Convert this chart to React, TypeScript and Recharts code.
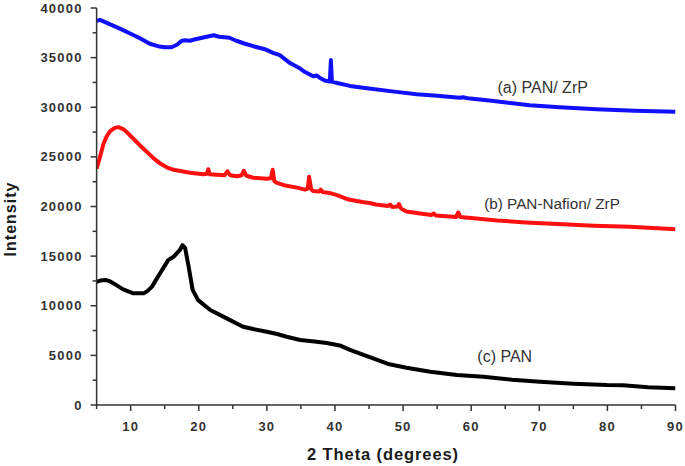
import React from 'react';
import { LineChart, Line, XAxis, YAxis, ReferenceDot, Label } from 'recharts';

// 2-theta (deg) vs intensity
const panZrP: [number, number][] = [
  [5, 38700], [5.5, 38800], [6.5, 38500], [7.5, 38200], [8.5, 37900], [10, 37400], [11.5, 36900],
  [12.8, 36400], [14, 36150], [15, 36050], [16, 36050], [16.8, 36300], [17.5, 36700], [18, 36750],
  [18.7, 36700], [19.5, 36850], [20.5, 37000], [21.5, 37150], [22.2, 37250], [23, 37100], [23.8, 37050],
  [24.5, 37000], [25.5, 36700], [26.8, 36400], [28, 36150], [29.7, 35850], [31, 35450], [31.9, 35250],
  [33.4, 34450], [34.9, 33900], [35.6, 33550], [36.8, 33130], [37.3, 33200], [37.7, 33000], [38.5, 32700],
  [39.25, 32600], [39.4, 34750], [39.55, 32580], [40, 32500], [42.2, 32150], [45, 31900], [49, 31550],
  [52, 31300], [55, 31150], [58.3, 30950], [58.8, 31000], [59.5, 30900], [63, 30650], [68.6, 30200],
  [73, 30000], [78.4, 29800], [84, 29650], [90, 29550],
];

const panNafionZrP: [number, number][] = [
  [5, 23800], [5.5, 25000], [6, 26300], [6.5, 27100], [7, 27600], [7.6, 27900], [8.2, 28000], [8.9, 27800],
  [9.5, 27450], [10.3, 26900], [11.3, 26200], [12.4, 25500], [13.3, 24900], [14.3, 24350], [15.3, 23950],
  [16.3, 23700], [17.5, 23550], [18.7, 23400], [20.7, 23250], [21.2, 23300], [21.4, 23750], [21.6, 23250],
  [22.6, 23200], [23.8, 23150], [24.2, 23550], [24.6, 23150], [25.6, 23050], [26.3, 23150], [26.6, 23600],
  [27, 23100], [28, 22900], [30, 22800], [30.6, 22850], [30.85, 23700], [31.1, 22550], [31.4, 22400],
  [32.5, 22150], [34.4, 21900], [35.6, 21700], [36, 21800], [36.2, 23000], [36.5, 21750], [36.8, 21550],
  [37.6, 21500], [37.9, 21700], [38.2, 21450], [39.3, 21350], [40.3, 21150], [42, 20700], [44, 20450],
  [45.1, 20350], [46, 20200], [47.8, 20050], [48.1, 20200], [48.4, 19950], [49.2, 20000], [49.4, 20250],
  [49.7, 19800], [50.5, 19500], [52.5, 19300], [54.2, 19150], [54.5, 19300], [54.8, 19100], [57.8, 18950],
  [58.1, 19400], [58.4, 18950], [60, 18850], [63.8, 18600], [68, 18400], [73.5, 18200], [78, 18050],
  [83.3, 17950], [86, 17850], [90, 17720],
];

const pan: [number, number][] = [
  [5, 12400], [5.6, 12550], [6.3, 12600], [7, 12450], [7.5, 12250], [8.9, 11650], [10.4, 11250],
  [11.9, 11250], [12.5, 11500], [13.1, 11900], [14.3, 13250], [15.5, 14600], [16.3, 14930], [17.2, 15600],
  [17.6, 16100], [18, 15800], [18.5, 14000], [19.1, 11600], [19.9, 10570], [21.7, 9570], [24.1, 8730],
  [26.5, 7880], [28, 7650], [30, 7380], [31.5, 7150], [32.9, 6880], [34.9, 6550], [37, 6400], [38.8, 6250],
  [40.7, 6000], [42.2, 5550], [45.6, 4700], [48, 4100], [50.5, 3760], [54, 3350], [57.9, 3020], [61.8, 2850],
  [66, 2550], [70.1, 2350], [75, 2150], [79.9, 2010], [82.3, 1980], [86, 1800], [90, 1680],
];

const xTicks = [5, 10, 15, 20, 25, 30, 35, 40, 45, 50, 55, 60, 65, 70, 75, 80, 85, 90];
const yTicks = [0, 2500, 5000, 7500, 10000, 12500, 15000, 17500, 20000, 22500, 25000, 27500, 30000, 32500, 35000, 37500, 40000];

const seriesLabels = [
  { x: 70.5, y: 32050, text: '(a) PAN/ ZrP', size: 16 },
  { x: 71.87, y: 20340, text: '(b) PAN-Nafion/ ZrP', size: 15.3 },
  { x: 64.93, y: 4860, text: '(c) PAN', size: 16 },
];

const toPoints = (s: [number, number][]) => s.map(([x, y]) => ({ x, y }));

const FONT = '"Liberation Sans", Arial, Helvetica, sans-serif';
const AXIS = '#333';

function XTick(props: any) {
  const { x, y, payload } = props;
  const v = payload.value;
  const major = v % 10 === 0;
  return (
    <g>
      <line x1={x} x2={x} y1={y} y2={y + (major ? 6 : 4)} stroke={AXIS} strokeWidth={1.5} />
      {major && (
        <text x={x} y={y + 26} textAnchor="middle" fontFamily={FONT} fontWeight="bold" fontSize={13}
          letterSpacing={1.2} fill="#333">{v}</text>
      )}
    </g>
  );
}

function YTick(props: any) {
  const { x, y, payload } = props;
  const v = payload.value;
  const major = v % 5000 === 0;
  return (
    <g>
      <line x1={x - (major ? 6 : 4)} x2={x} y1={y} y2={y} stroke={AXIS} strokeWidth={1.5} />
      {major && (
        <text x={x - 14} y={y + 4.6} textAnchor="end" fontFamily={FONT} fontWeight="bold" fontSize={13}
          letterSpacing={1.2} fill="#333">{v}</text>
      )}
    </g>
  );
}

export default function App() {
  return (
    <div style={{ position: 'absolute', left: 0, top: 0, width: 685, height: 466, background: '#fff' }}>
      <LineChart width={685} height={466} margin={{ top: 8, right: 9.5, left: 0, bottom: 0 }}>
        <XAxis
          dataKey="x"
          type="number"
          domain={[5, 90]}
          ticks={xTicks}
          interval={0}
          allowDataOverflow
          height={61}
          tickSize={0}
          tickMargin={0}
          tickLine={false}
          tick={<XTick />}
          axisLine={{ stroke: AXIS, strokeWidth: 1.5 }}
        >
          <Label
            content={() => (
              <text x={383} y={460} textAnchor="middle" fontFamily={FONT} fontWeight="bold" fontSize={16.5}
                letterSpacing={0.9} fill="#1a1a1a">2 Theta (degrees)</text>
            )}
          />
        </XAxis>
        <YAxis
          dataKey="y"
          type="number"
          domain={[0, 40000]}
          ticks={yTicks}
          interval={0}
          allowDataOverflow
          width={96.6}
          tickSize={0}
          tickMargin={0}
          tickLine={false}
          tick={<YTick />}
          axisLine={{ stroke: AXIS, strokeWidth: 1.5 }}
        >
          <Label
            content={() => (
              <text x={15.5} y={219} transform="rotate(-90, 15.5, 219)" textAnchor="middle" fontFamily={FONT}
                fontWeight="bold" fontSize={16} letterSpacing={1} fill="#1a1a1a">Intensity</text>
            )}
          />
        </YAxis>
        <Line data={toPoints(panZrP)} dataKey="y" stroke="#1010ff" strokeWidth={4} dot={false}
          isAnimationActive={false} type="linear" strokeLinejoin="round" />
        <Line data={toPoints(panNafionZrP)} dataKey="y" stroke="#ff1010" strokeWidth={4} dot={false}
          isAnimationActive={false} type="linear" strokeLinejoin="round" />
        <Line data={toPoints(pan)} dataKey="y" stroke="#000" strokeWidth={4} dot={false}
          isAnimationActive={false} type="linear" strokeLinejoin="round" />
        {seriesLabels.map((l) => (
          <ReferenceDot key={l.text} x={l.x} y={l.y} r={0} fill="none" stroke="none"
            label={{ value: l.text, position: 'center', fontFamily: FONT, fontSize: l.size, fill: '#333' }} />
        ))}
      </LineChart>
    </div>
  );
}
